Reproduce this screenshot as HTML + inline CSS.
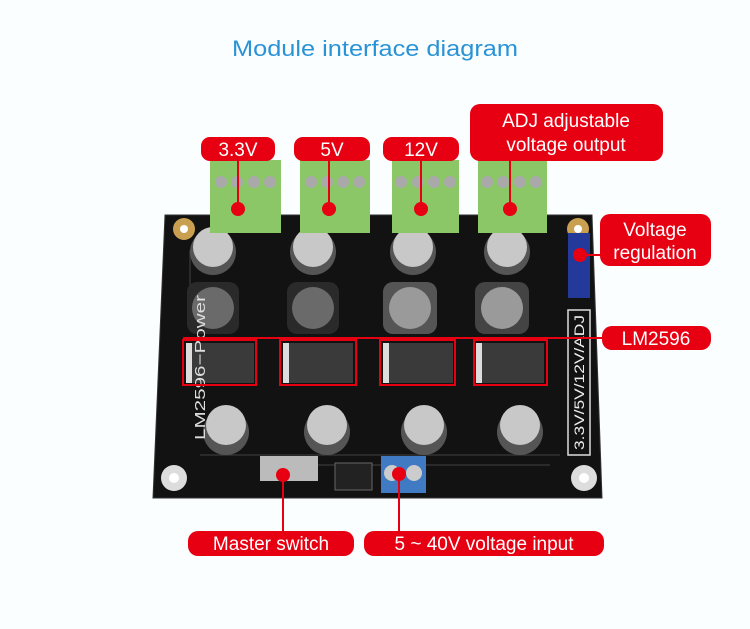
<!DOCTYPE html>
<html><head><meta charset="utf-8"><style>
html,body{margin:0;padding:0;background:#fff;width:750px;height:629px;overflow:hidden}
text{font-family:"Liberation Sans",sans-serif}
</style></head><body>
<svg width="750" height="629" viewBox="0 0 750 629" xmlns="http://www.w3.org/2000/svg">
<rect width="750" height="629" fill="#fbfeff"/>
<text x="232" y="56" font-size="22" fill="#2a93d5" textLength="286" lengthAdjust="spacingAndGlyphs">Module interface diagram</text>

<!-- board -->
<polygon points="165,215 592,215 602,498 153,498" fill="#121212"/>
<polygon points="165,215 592,215 602,498 153,498" fill="none" stroke="#333" stroke-width="1"/>
<g stroke="#3a3a3a" stroke-width="1.2" fill="none">
<path d="M200,455 H560 M260,465 H550 M190,250 V300"/>
</g>
<g fill="#c9a050"><circle cx="184" cy="229" r="11"/><circle cx="578" cy="229" r="11"/></g>
<g fill="#ddd"><circle cx="174" cy="478" r="13"/><circle cx="584" cy="478" r="13"/></g>
<g fill="#fff"><circle cx="184" cy="229" r="4"/><circle cx="578" cy="229" r="4"/><circle cx="174" cy="478" r="5"/><circle cx="584" cy="478" r="5"/></g>

<g>
<circle cx="213" cy="252" r="23" fill="#555"/><circle cx="213" cy="247" r="20" fill="#c8c8c8"/>
<circle cx="313" cy="252" r="23" fill="#555"/><circle cx="313" cy="247" r="20" fill="#c8c8c8"/>
<circle cx="413" cy="252" r="23" fill="#555"/><circle cx="413" cy="247" r="20" fill="#c8c8c8"/>
<circle cx="507" cy="252" r="23" fill="#555"/><circle cx="507" cy="247" r="20" fill="#c8c8c8"/>
</g>
<g>
<rect x="187" y="282" width="52" height="52" rx="10" fill="#2a2a2a"/><circle cx="213" cy="308" r="21" fill="#6a6a6a"/>
<rect x="287" y="282" width="52" height="52" rx="10" fill="#2a2a2a"/><circle cx="313" cy="308" r="21" fill="#6a6a6a"/>
<rect x="383" y="282" width="54" height="52" rx="10" fill="#555"/><circle cx="410" cy="308" r="21" fill="#9a9a9a"/>
<rect x="475" y="282" width="54" height="52" rx="10" fill="#444"/><circle cx="502" cy="308" r="21" fill="#9a9a9a"/>
</g>
<g>
<rect x="186" y="343" width="68" height="40" fill="#3a3a3a"/><rect x="186" y="343" width="6" height="40" fill="#ddd"/>
<rect x="283" y="343" width="70" height="40" fill="#3a3a3a"/><rect x="283" y="343" width="6" height="40" fill="#ddd"/>
<rect x="383" y="343" width="70" height="40" fill="#3a3a3a"/><rect x="383" y="343" width="6" height="40" fill="#ddd"/>
<rect x="476" y="343" width="68" height="40" fill="#3a3a3a"/><rect x="476" y="343" width="6" height="40" fill="#ddd"/>
</g>
<g>
<circle cx="226" cy="432" r="23" fill="#555"/><circle cx="226" cy="425" r="20" fill="#c8c8c8"/>
<circle cx="327" cy="432" r="23" fill="#555"/><circle cx="327" cy="425" r="20" fill="#c8c8c8"/>
<circle cx="424" cy="432" r="23" fill="#555"/><circle cx="424" cy="425" r="20" fill="#c8c8c8"/>
<circle cx="520" cy="432" r="23" fill="#555"/><circle cx="520" cy="425" r="20" fill="#c8c8c8"/>
</g>
<rect x="260" y="456" width="58" height="25" fill="#bbb"/>
<rect x="335" y="463" width="37" height="27" fill="#222" stroke="#666"/>
<rect x="381" y="456" width="45" height="37" fill="#3f7ac2"/>
<circle cx="392" cy="473" r="8" fill="#ccc"/><circle cx="414" cy="473" r="8" fill="#ccc"/>
<rect x="568" y="233" width="22" height="65" fill="#243a9a"/>
<rect x="568" y="310" width="22" height="145" fill="none" stroke="#ddd" stroke-width="1.5"/>
<text transform="translate(584,450) rotate(-90)" font-size="14" fill="#eee" font-family="Liberation Serif" textLength="135" lengthAdjust="spacingAndGlyphs">3.3V/5V/12V/ADJ</text>
<text transform="translate(205,440) rotate(-90)" font-size="15" fill="#ddd" font-family="Liberation Serif" textLength="145" lengthAdjust="spacingAndGlyphs">LM2596−Power</text>

<g fill="#8cc767">
<rect x="210" y="160" width="71" height="73"/><rect x="300" y="160" width="70" height="73"/>
<rect x="392" y="160" width="67" height="73"/><rect x="478" y="160" width="69" height="73"/>
</g>
<g fill="#a9a9a9">
<circle cx="221" cy="182" r="6"/><circle cx="237" cy="182" r="6"/><circle cx="254" cy="182" r="6"/><circle cx="270" cy="182" r="6"/>
<circle cx="311" cy="182" r="6"/><circle cx="327" cy="182" r="6"/><circle cx="343" cy="182" r="6"/><circle cx="359" cy="182" r="6"/>
<circle cx="401" cy="182" r="6"/><circle cx="418" cy="182" r="6"/><circle cx="434" cy="182" r="6"/><circle cx="450" cy="182" r="6"/>
<circle cx="487" cy="182" r="6"/><circle cx="503" cy="182" r="6"/><circle cx="520" cy="182" r="6"/><circle cx="536" cy="182" r="6"/>
</g>

<g stroke="#e60012" stroke-width="2" fill="none">
<path d="M238,160 V209 M329,160 V209 M421,160 V209 M510,160 V209"/>
<path d="M580,255 H600"/>
<path d="M183,338 H602"/>
<rect x="183" y="340" width="73" height="45"/><rect x="280" y="340" width="76" height="45"/>
<rect x="380" y="340" width="75" height="45"/><rect x="474" y="340" width="73" height="45"/>
<path d="M283,475 V531 M399,474 V531"/>
</g>
<g fill="#e60012">
<circle cx="238" cy="209" r="7"/><circle cx="329" cy="209" r="7"/><circle cx="421" cy="209" r="7"/><circle cx="510" cy="209" r="7"/>
<circle cx="580" cy="255" r="7"/><circle cx="283" cy="475" r="7"/><circle cx="399" cy="474" r="7"/>
<rect x="201" y="137" width="74" height="24" rx="9"/>
<rect x="294" y="137" width="76" height="24" rx="9"/>
<rect x="383" y="137" width="76" height="24" rx="9"/>
<rect x="470" y="104" width="193" height="57" rx="10"/>
<rect x="600" y="214" width="111" height="52" rx="10"/>
<rect x="602" y="326" width="109" height="24" rx="10"/>
<rect x="188" y="531" width="166" height="25" rx="10"/>
<rect x="364" y="531" width="240" height="25" rx="10"/>
</g>
<g fill="#fff" font-size="19" text-anchor="middle">
<text x="238" y="156">3.3V</text>
<text x="332" y="156">5V</text>
<text x="421" y="156">12V</text>
<text x="566" y="127">ADJ adjustable</text>
<text x="566" y="151">voltage output</text>
<text x="655" y="236">Voltage</text>
<text x="655" y="259">regulation</text>
<text x="656" y="345">LM2596</text>
<text x="271" y="550">Master switch</text>
<text x="484" y="550">5 ~ 40V voltage input</text>
</g>
</svg>
</body></html>
